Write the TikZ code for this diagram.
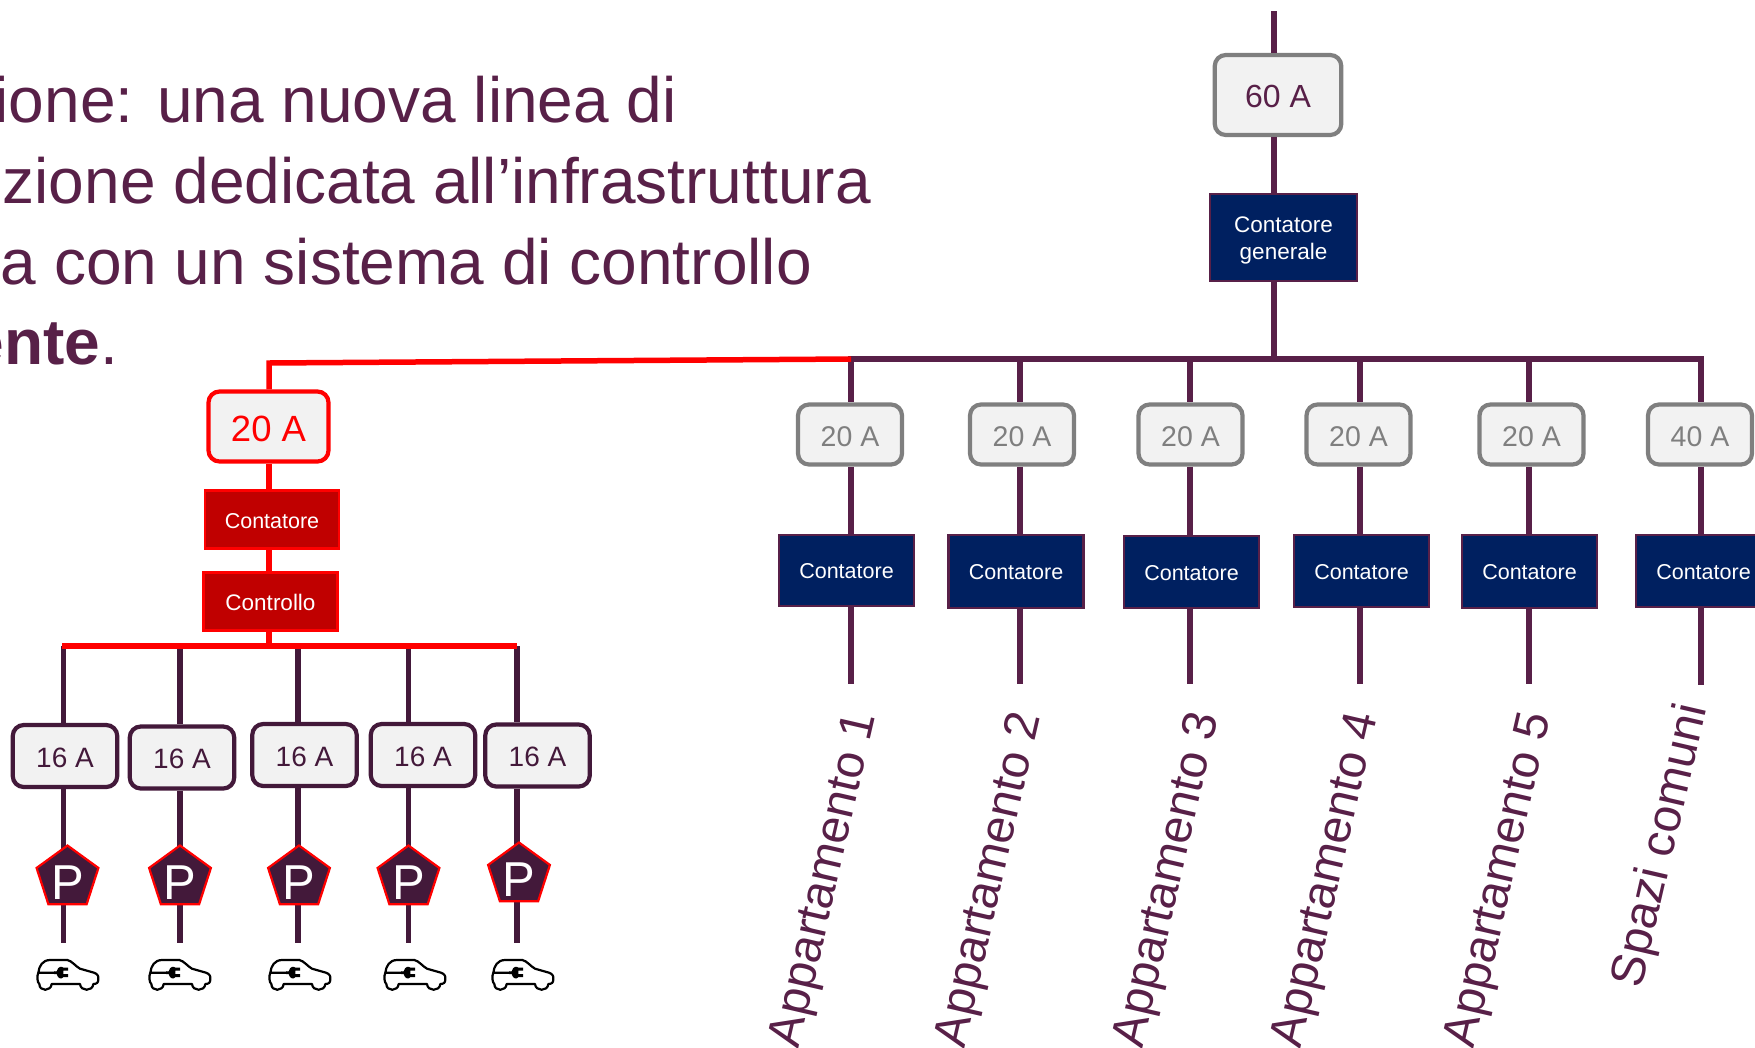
\documentclass[tikz,border=0pt]{standalone}
\usepackage{fontspec}
\setmainfont{Liberation Sans}
\usetikzlibrary{shapes.geometric,calc}
\definecolor{plum}{HTML}{582048}
\definecolor{darkplum}{HTML}{43193A}
\definecolor{navy}{HTML}{002060}
\definecolor{darkred}{HTML}{C00000}
\definecolor{greyline}{HTML}{7F7F7F}
\definecolor{palefill}{HTML}{F2F2F2}
\newcommand{\fs}[1]{\fontsize{#1}{#1}\selectfont}
\tikzset{
  x=1pt,y=-1pt,
  line/.style={line width=5.5pt,color=plum},
  darkline/.style={line width=5.5pt,color=darkplum},
  redline/.style={line width=5.5pt,color=red},
  fuse/.style={draw,rounded corners=11pt,fill=palefill,inner sep=0pt,align=center},
  greyfuse/.style={fuse,draw=greyline,line width=4.2pt,text=greyline,minimum width=104pt,minimum height=60pt,text height=24pt,text depth=0pt,font=\fs{28.5}},
  darkfuse/.style={fuse,draw=darkplum,line width=4.2pt,text=darkplum,minimum width=104.5pt,minimum height=62pt,text height=22pt,text depth=0pt,font=\fs{28}},
  meter/.style={draw=plum,fill=navy,line width=2.4pt,text=white,inner sep=0pt,align=center,minimum width=135pt,minimum height=72pt,font=\fs{21.5}},
  redmeter/.style={draw=red,fill=darkred,line width=2.4pt,text=white,inner sep=0pt,minimum width=134pt,minimum height=58pt,text height=18pt,text depth=0pt},
  parking/.style={regular polygon,regular polygon sides=5,draw=red,fill=darkplum,line width=2.2pt,minimum size=65pt,inner sep=0pt},
  ptext/.style={text=white,font=\fs{49},inner sep=0pt},
  headline/.style={anchor=base east,text=plum,font=\fs{64},inner sep=0pt},
  vlabel/.style={rotate=77,text=plum,font=\fs{48},inner sep=0pt},
  car/.pic={
    \draw[black,line width=2.2pt,line join=round,scale=1/3]
      (25,68) .. controls (27,48) and (38,30) .. (60,30) -- (112,30)
      .. controls (125,32) and (138,50) .. (150,56) -- (192,68)
      .. controls (203,72) and (206,78) .. (205,88)
      .. controls (205,98) and (200,102) .. (190,102)
      .. controls (188,125) and (152,125) .. (150,102) -- (65,102)
      .. controls (63,125) and (28,125) .. (28,102)
      .. controls (22,98) and (20,78) .. (25,68) -- (75,68);
    \fill[black,scale=1/3] (72,64) -- (80,64) .. controls (84,48) and (96,48) .. (100,53) -- (114,53) -- (114,62) -- (100,62) -- (100,72) -- (114,72) -- (114,81) -- (100,81) .. controls (96,88) and (84,88) .. (80,72) -- (72,72) -- cycle;
  }
}
\begin{document}
\begin{tikzpicture}
\useasboundingbox (0,0) rectangle (1755,1047);
\clip (0,0) rectangle (1755,1047);

% headline
\node[headline] (h1) at (677,122) {ione: una nuova linea di};
\node[headline] (h2) at (871,203) {zione dedicata all’infrastruttura};
\node[headline] (h3) at (812,284) {a con un sistema di controllo};
\node[headline] (h4) at (118,364) {\textbf{ente}.};

% main feed
\coordinate (top) at (1274,11);
\coordinate (hub) at (1274,359);
\coordinate (busR) at (1701,359);
\coordinate (busL) at (851,359);
\node[fuse,draw=greyline,line width=4.2pt,text=plum,minimum width=126.5pt,minimum height=80pt,text height=24pt,text depth=0pt,font=\fs{32}] (f0) at (1278,95) {60 A};
\node[meter,minimum width=147pt,minimum height=87pt,font=\fontsize{22.5}{27}\selectfont] (m0) at (1283.5,237.5) {\rule{0pt}{22pt}Contatore\\generale};
\draw[line] (top) -- (top |- f0.north);
\draw[line] (top |- f0.south) -- (top |- m0.north);
\draw[line] (top |- m0.south) -- (hub);
\draw[line,line cap=rect] (busL) -- (busR);

% apartment columns
\foreach \n/\lx/\fx/\mx/\my/\mh/\amp/\ey in
  {1/851/850/846.5/570.5/71/20/684,
   2/1020/1022/1016/571.5/73/20/684,
   3/1190/1190.5/1191.5/572/72/20/684,
   4/1360/1358.5/1361.5/571/72/20/684,
   5/1529/1531.5/1529.5/571.5/73/20/684,
   6/1701/1700/1703.5/571/72/40/685}{
  \coordinate (t\n) at (\lx,359);
  \coordinate (e\n) at (\lx,\ey);
  \node[greyfuse] (f\n) at (\fx,434.5) {\amp\ A};
  \node[meter,minimum height=\mh pt,text height=16pt,text depth=0pt] (m\n) at (\mx,\my) {Contatore};
  \draw[line] (t\n) -- (t\n |- f\n.north);
  \draw[line] (t\n |- f\n.south) -- (t\n |- m\n.north);
  \draw[line] (t\n |- m\n.south) -- (e\n);
}

% apartment labels
\node[vlabel] (a1) at (826,880) {Appartamento 1};
\node[vlabel] (a2) at (991,880) {Appartamento 2};
\node[vlabel] (a3) at (1169,880) {Appartamento 3};
\node[vlabel] (a4) at (1328,880) {Appartamento 4};
\node[vlabel] (a5) at (1501,880) {Appartamento 5};
\node[vlabel] (a6) at (1662,846) {Spazi comuni};

% red branch
\coordinate (rcorner) at (269,363);
\coordinate (rbusL) at (62,646);
\coordinate (rbusR) at (517,646);
\coordinate (rhub) at (269,646);
\node[fuse,draw=red,line width=4.2pt,text=red,minimum width=120pt,minimum height=70pt,text height=30pt,text depth=0pt,font=\fs{36.5}] (rf) at (268.5,426.5) {20 A};
\node[redmeter,font=\fs{21.5}] (rm) at (272,519.5) {Contatore};
\node[redmeter,font=\fs{22.5}] (rc) at (270.5,601.5) {Controllo};

% charging columns
\foreach \n/\lx/\fx/\fy/\px/\py/\cx in
  {1/63.5/65/756/67.5/878/30,
   2/180/182/757.5/180/878/142,
   3/298/304.5/755/299/878/262,
   4/408.5/423/755/408.5/878/377,
   5/517/537.5/755.5/519/875/485}{
  \coordinate (d\n) at (\lx,646);
  \coordinate (g\n) at (\lx,943);
  \node[darkfuse] (s\n) at (\fx,\fy) {16 A};
  \draw[darkline] (d\n) -- (d\n |- s\n.north);
  \draw[darkline] (d\n |- s\n.south) -- (g\n);
  \node[parking] (p\n) at (\px,\py) {};
  \node[ptext] (q\n) at (\px,\py+5) {P};
  \pic (c\n) at (\cx,950) {car};
}
\draw[redline,line join=miter] (busL) -- (rcorner) -- (rcorner |- rf.north);
\draw[redline] (rcorner |- rf.south) -- (rcorner |- rm.north);
\draw[redline] (rcorner |- rm.south) -- (rcorner |- rc.north);
\draw[redline] (rcorner |- rc.south) -- (rhub);
\draw[redline] (rbusL) -- (rbusR);
\end{tikzpicture}
\end{document}
